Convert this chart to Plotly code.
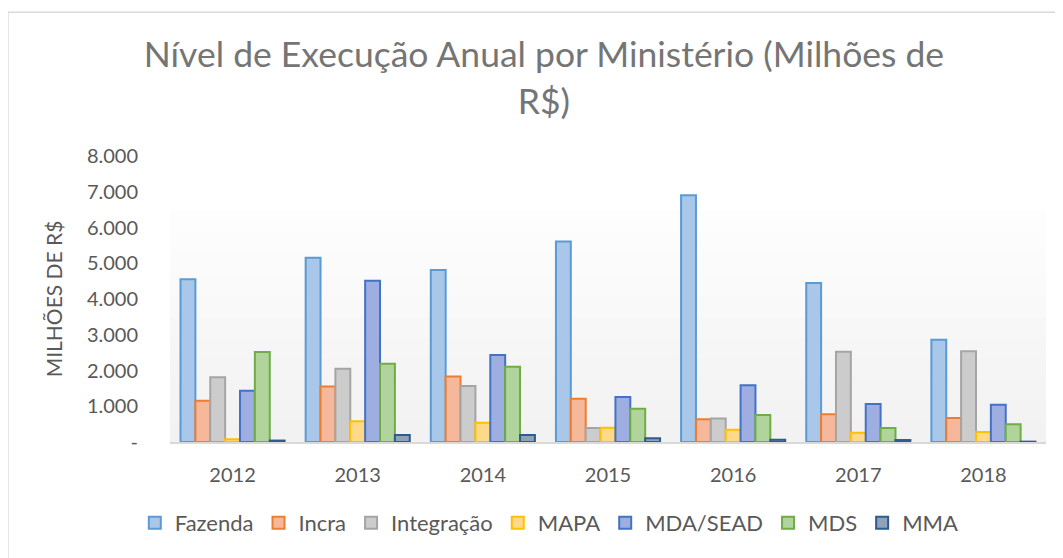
import plotly.graph_objects as go

anos = ['2012', '2013', '2014', '2015', '2016', '2017', '2018']

fazenda = [4550, 5155, 4810, 5610, 6900, 4450, 2860]
incra = [1155, 1550, 1830, 1210, 635, 775, 670]
integracao = [1810, 2050, 1565, 390, 655, 2525, 2535]
mapa = [75, 580, 540, 400, 345, 260, 280]
mda_sead = [1435, 4510, 2435, 1260, 1585, 1065, 1045]
mds = [2515, 2190, 2105, 930, 755, 390, 495]
mma = [40, 195, 195, 105, 65, 55, 10]

series = [
    ('Fazenda', fazenda, '#a9c7e8', '#5b9bd5'),
    ('Incra', incra, '#f6b89a', '#ed7d31'),
    ('Integração', integracao, '#cccccc', '#a5a5a5'),
    ('MAPA', mapa, '#ffd98a', '#ffc000'),
    ('MDA/SEAD', mda_sead, '#9eaee0', '#4472c4'),
    ('MDS', mds, '#b0d49c', '#70ad47'),
    ('MMA', mma, '#8fa1bb', '#2e5c8f'),
]

tick_vals = [0, 1000, 2000, 3000, 4000, 5000, 6000, 7000, 8000]
tick_text = ['-', '1.000', '2.000', '3.000', '4.000', '5.000', '6.000', '7.000', '8.000']

fig = go.Figure()
for nome, valores, fill, borda in series:
    fig.add_trace(go.Bar(x=anos, y=valores, name=nome,
                         marker=dict(color=fill, line=dict(color=borda, width=2))))

# light gradient behind the bars, like the Excel plot area
bands = 12
for i in range(bands):
    g = int(242 + 13 * i / (bands - 1))
    fig.add_shape(type='rect', xref='paper', yref='paper',
                  x0=0, x1=1, y0=i / bands * 0.88, y1=(i + 1) / bands * 0.88,
                  fillcolor=f'rgb({g},{g},{g})', line=dict(width=0), layer='below')

# chart border (only top and left are visible in the picture)
fig.add_shape(type='rect', xref='paper', yref='paper',
              x0=-0.185, x1=1.2, y0=-0.6, y1=1.503,
              line=dict(color='#d9d9d9', width=1.5), fillcolor='rgba(0,0,0,0)')

# page body adds 8px margin, so the figure is 8px smaller than the window
fig.update_layout(
    width=1055, height=550,
    margin=dict(l=162, r=17, t=148, b=116),
    barmode='group', bargap=0.168, bargroupgap=0,
    font=dict(family='Lato, Calibri, sans-serif', color='#595959', size=20),
    title=dict(text='Nível de Execução Anual por Ministério (Milhões de<br>R$)',
               x=0.508, xanchor='center', y=0.892, yanchor='middle',
               font=dict(size=35.5, color='#757575')),
    plot_bgcolor='white', paper_bgcolor='white',
    legend=dict(orientation='h', x=0.433, xanchor='center', y=-0.283, yanchor='middle',
                font=dict(size=22), itemwidth=30, tracegroupgap=0),
    showlegend=True,
)

fig.update_xaxes(showline=True, linecolor='#d9d9d9', linewidth=2, showgrid=False,
                 ticks='', ticklabelstandoff=14, tickfont=dict(size=20))
fig.update_yaxes(range=[0, 8000], tickvals=tick_vals, ticktext=tick_text,
                 showgrid=False, zeroline=False, ticklabelstandoff=31,
                 tickfont=dict(size=20),
                 title=dict(text='MILHÕES DE R$', font=dict(size=21), standoff=18))

fig.write_html('out.html')
